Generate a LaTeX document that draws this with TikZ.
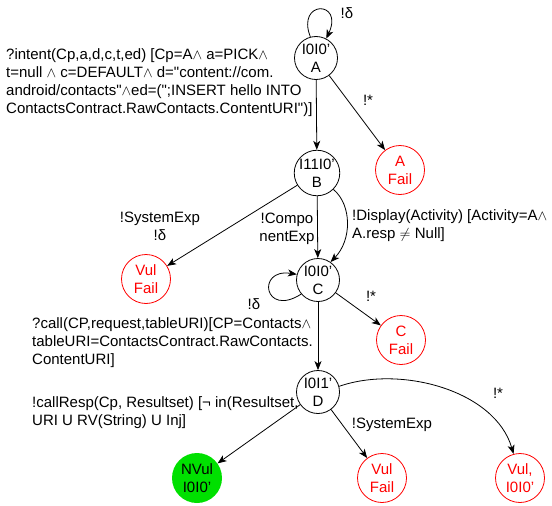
\documentclass[tikz,border=0pt]{standalone}
\usepackage{amssymb}
\usepackage{fontspec}
\setmainfont{Liberation Sans}
\usetikzlibrary{arrows.meta}
\definecolor{failred}{RGB}{255,0,0}
\definecolor{okgreen}{RGB}{0,224,0}

\begin{document}
\begin{tikzpicture}[x=1pt, y=-1pt,
		every node/.style={font=\fontsize{15}{18}\selectfont},
		state/.style={draw, circle, minimum size=43pt, inner sep=0pt, align=center, line width=0.8pt},
		fail/.style={draw=failred, text=failred, circle, minimum size=49pt, inner sep=0pt, align=center, line width=0.8pt},
		safe/.style={fill=okgreen, circle, minimum size=50pt, inner sep=0pt, align=center},
		lbl/.style={inner sep=0pt},
		arr/.style={-{Stealth[length=9pt, width=7pt, inset=2.5pt]}, line width=0.8pt}]
			\useasboundingbox (0,0) rectangle (552,506);
			%states of the test model
			\node[state] (A) at (316,58) {I0I0'\\A};
			\node[state] (B) at (317,173) {I11I0'\\B};
			\node[state] (C) at (318,280) {I0I0'\\C};
			\node[state] (D) at (318,392) {I0I1'\\D};
			%verdicts
			\node[fail] (afail) at (400,170) {A\\Fail};
			\node[fail] (vulfailB) at (146,279) {Vul\\Fail};
			\node[fail] (cfail) at (401,340) {C\\Fail};
			\node[safe] (nvul) at (197,478) {NVul\\I0I0'};
			\node[fail] (vulfailD) at (382,478) {Vul\\Fail};
			\node[fail] (vulio) at (520,478) {Vul,\\I0I0'};
			%transitions
			\draw[arr] (A.105) .. controls (296,0) and (344,0) .. (A.62);
			\draw[arr] (A) -- (B);
			\draw[arr] (A) -- (afail);
			\draw[arr] (B) -- (vulfailB);
			\draw[arr] (B) -- (C);
			\draw[arr] (B.-45) .. controls (352,205) and (352,240) .. (C.55);
			\draw[arr] (C.-140) .. controls (264,318) and (256,268) .. (C.165);
			\draw[arr] (C) -- (cfail);
			\draw[arr] (C) -- (D);
			\draw[arr] (D) -- (nvul);
			\draw[arr] (D) -- (vulfailD);
			\draw[arr] (D.15) .. controls (400,365) and (495,390) .. (vulio.105);
			%labels
			\node[lbl, anchor=west, align=left] (intentlbl) at (6,83) {?intent(Cp,a,d,c,t,ed) [Cp=A$\wedge$ a=PICK$\wedge$\\t=null $\wedge$ c=DEFAULT$\wedge$ d=\textquotedbl content://com.\\android/contacts\textquotedbl$\wedge$ed=(\textquotedbl;INSERT hello INTO\\ContactsContract.RawContacts.ContentURI\textquotedbl)]};
			\node[lbl] (loopAlbl) at (347,13) {!δ};
			\node[lbl] (starAlbl) at (368,100) {!*};
			\node[lbl, align=center] (sysBlbl) at (160,226) {!SystemExp\\!δ};
			\node[lbl, align=center] (compBlbl) at (287,229) {!Compo\\nentExp};
			\node[lbl, anchor=west, align=left] (displbl) at (352,226) {!Display(Activity) [Activity=A$\wedge$\\A.resp $\neq$ Null]};
			\node[lbl] (loopClbl) at (254,304) {!δ};
			\node[lbl] (starClbl) at (371,296) {!*};
			\node[lbl, anchor=west, align=left] (calllbl) at (32,343) {?call(CP,request,tableURI)[CP=Contacts$\wedge$\\tableURI=ContactsContract.RawContacts.\\ContentURI]};
			\node[lbl, anchor=west, align=left] (resplbl) at (32,413) {!callResp(Cp, Resultset) [¬ in(Resultset,\\URI U RV(String) U Inj]};
			\node[lbl] (sysDlbl) at (392,425) {!SystemExp};
			\node[lbl] (starDlbl) at (498,393) {!*};
		\end{tikzpicture}
\end{document}
